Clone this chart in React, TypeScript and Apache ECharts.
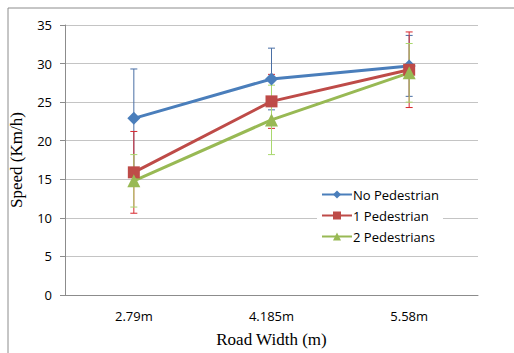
import React, { useEffect, useRef } from "react";
import * as echarts from "echarts";

const categories = ["2.79m", "4.185m", "5.58m"];
const noPedestrian = [22.9, 28.0, 29.7];
const noPedestrianErr = [6.4, 4.0, 3.95];
const onePedestrian = [15.9, 25.1, 29.2];
const onePedestrianErr = [5.3, 3.5, 4.9];
const twoPedestrians = [14.8, 22.7, 28.8];
const twoPedestriansErr = [3.4, 4.5, 3.8];
const yTicks = [0, 5, 10, 15, 20, 25, 30, 35];

const BLUE = "#4A7EBB";
const RED = "#BE4B48";
const GREEN = "#98B954";

function errorSeries(name: string, vals: number[], errs: number[], color: string) {
  return {
    type: "custom",
    name: name + " err",
    z: 1,
    silent: true,
    renderItem: (params: any, api: any) => {
      const i = api.value(0);
      const v = api.value(1);
      const e = api.value(2);
      const top = api.coord([i, v + e]);
      const bot = api.coord([i, v - e]);
      const hw = 3.5;
      const style = { stroke: color, lineWidth: 1 };
      return {
        type: "group",
        children: [
          { type: "line", shape: { x1: top[0], y1: top[1], x2: bot[0], y2: bot[1] }, style },
          { type: "line", shape: { x1: top[0] - hw, y1: top[1], x2: top[0] + hw, y2: top[1] }, style },
          { type: "line", shape: { x1: bot[0] - hw, y1: bot[1], x2: bot[0] + hw, y2: bot[1] }, style },
        ],
      };
    },
    data: vals.map((v, i) => [i, v, errs[i]]),
    tooltip: { show: false },
  };
}

export default function App() {
  const ref = useRef<HTMLDivElement>(null);
  useEffect(() => {
    const chart = echarts.init(ref.current!, null, { renderer: "svg" });
    const sans = "'Open Sans', sans-serif";
    const serif = "'Liberation Serif', serif";
    chart.setOption({
      animation: false,
      backgroundColor: "#fff",
      graphic: [
        {
          type: "rect",
          shape: { x: 8, y: 8, width: 520, height: 360 },
          style: { fill: "none", stroke: "#8c8c8c", lineWidth: 1 },
          z: -1,
        },
      ],
      grid: { left: 64, right: 36, top: 25, bottom: 56 },
      legend: {
        orient: "vertical",
        left: 317,
        top: 186,
        itemGap: 8,
        itemWidth: 30,
        itemHeight: 10,
        padding: [2, 4, 2, 4],
        backgroundColor: "#fff",
        data: ["No Pedestrian", "1 Pedestrian", "2 Pedestrians"],
        textStyle: { fontFamily: sans, fontSize: 13, color: "#000", padding: [0, 0, 0, -4] },
      },
      xAxis: {
        type: "category",
        data: categories,
        name: "Road Width (m)",
        nameLocation: "middle",
        nameGap: 36,
        nameTextStyle: { fontFamily: serif, fontSize: 17, color: "#000" },
        axisLine: { lineStyle: { color: "#8c8c8c" } },
        axisTick: { length: 5, lineStyle: { color: "#8c8c8c" } },
        axisLabel: { fontFamily: sans, fontSize: 13, color: "#000", margin: 14 },
      },
      yAxis: {
        type: "value",
        min: yTicks[0],
        max: yTicks[yTicks.length - 1],
        interval: 5,
        name: "Speed (Km/h)",
        nameLocation: "middle",
        nameGap: 40,
        nameTextStyle: { fontFamily: serif, fontSize: 17, color: "#000" },
        axisLine: { show: true, lineStyle: { color: "#8c8c8c" } },
        axisTick: { show: true, inside: false, length: 5, lineStyle: { color: "#8c8c8c" } },
        axisLabel: { fontFamily: sans, fontSize: 13, color: "#000", margin: 13 },
        splitLine: { lineStyle: { color: "#c4c4c4", width: 1 } },
      },
      series: [
        errorSeries("No Pedestrian", noPedestrian, noPedestrianErr, "#4A6FA5"),
        errorSeries("1 Pedestrian", onePedestrian, onePedestrianErr, "#D7282E"),
        errorSeries("2 Pedestrians", twoPedestrians, twoPedestriansErr, "#A9D86E"),
        {
          type: "line",
          name: "No Pedestrian",
          data: noPedestrian,
          z: 3,
          symbol: "diamond",
          symbolSize: 13,
          color: BLUE,
          lineStyle: { color: BLUE, width: 3 },
          itemStyle: { color: BLUE },
        },
        {
          type: "line",
          name: "1 Pedestrian",
          data: onePedestrian,
          z: 3,
          symbol: "rect",
          symbolSize: 12,
          color: RED,
          lineStyle: { color: RED, width: 3 },
          itemStyle: { color: RED },
        },
        {
          type: "line",
          name: "2 Pedestrians",
          data: twoPedestrians,
          z: 3,
          symbol: "triangle",
          symbolSize: 13,
          color: GREEN,
          lineStyle: { color: GREEN, width: 3 },
          itemStyle: { color: GREEN },
        },
      ],
    });
    return () => chart.dispose();
  }, []);
  return <div ref={ref} style={{ width: 514, height: 353, position: "absolute", left: 0, top: 0 }} />;
}
